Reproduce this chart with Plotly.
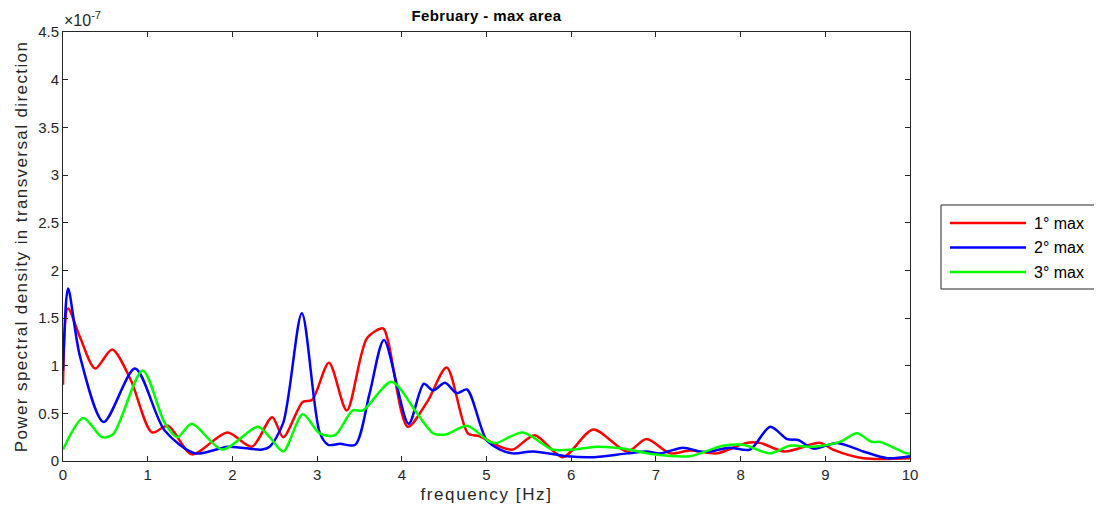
import plotly.graph_objects as go

# values in units of 1e-7
x_red = [0.0, 0.06, 0.2, 0.38, 0.58, 0.8, 1.05, 1.24, 1.52, 1.94, 2.23, 2.47, 2.6, 2.83, 2.94, 3.14, 3.35, 3.59, 3.78, 3.84, 4.07, 4.3, 4.53, 4.78, 4.92, 5.16, 5.31, 5.57, 5.9, 6.26, 6.66, 6.89, 7.17, 7.4, 7.72, 8.07, 8.23, 8.52, 8.94, 9.09, 9.45, 10.0]
y_red = [0.8, 1.6, 1.3, 0.97, 1.17, 0.85, 0.30, 0.37, 0.07, 0.30, 0.15, 0.46, 0.25, 0.62, 0.64, 1.03, 0.53, 1.29, 1.39, 1.25, 0.36, 0.62, 0.98, 0.29, 0.26, 0.15, 0.12, 0.27, 0.04, 0.33, 0.10, 0.23, 0.08, 0.11, 0.08, 0.19, 0.19, 0.10, 0.19, 0.12, 0.03, 0.03]

x_blue = [0.0, 0.06, 0.2, 0.48, 0.85, 1.2, 1.56, 1.95, 2.35, 2.44, 2.6, 2.82, 3.03, 3.13, 3.27, 3.45, 3.62, 3.79, 4.08, 4.26, 4.37, 4.51, 4.65, 4.77, 5.0, 5.16, 5.31, 5.55, 5.95, 6.26, 6.66, 6.89, 7.05, 7.32, 7.52, 7.64, 7.87, 8.11, 8.35, 8.55, 8.68, 8.86, 9.14, 9.45, 9.73, 10.0]
y_blue = [0.95, 1.81, 1.1, 0.41, 0.97, 0.32, 0.08, 0.15, 0.12, 0.15, 0.40, 1.55, 0.30, 0.17, 0.18, 0.17, 0.71, 1.27, 0.39, 0.81, 0.74, 0.82, 0.71, 0.75, 0.22, 0.12, 0.08, 0.10, 0.05, 0.04, 0.08, 0.10, 0.08, 0.14, 0.10, 0.10, 0.14, 0.12, 0.36, 0.23, 0.22, 0.13, 0.19, 0.10, 0.03, 0.05]

x_green = [0.0, 0.24, 0.46, 0.59, 0.94, 1.2, 1.35, 1.52, 1.88, 2.3, 2.44, 2.6, 2.83, 3.03, 3.21, 3.42, 3.54, 3.88, 4.18, 4.37, 4.53, 4.77, 5.04, 5.12, 5.43, 5.78, 6.02, 6.3, 6.61, 6.97, 7.4, 7.79, 8.03, 8.35, 8.58, 8.86, 9.17, 9.37, 9.55, 9.65, 9.96, 10.0]
y_green = [0.12, 0.45, 0.25, 0.28, 0.95, 0.40, 0.25, 0.39, 0.12, 0.36, 0.25, 0.10, 0.49, 0.29, 0.27, 0.53, 0.53, 0.83, 0.50, 0.29, 0.28, 0.37, 0.20, 0.19, 0.30, 0.12, 0.12, 0.15, 0.13, 0.07, 0.05, 0.16, 0.17, 0.08, 0.16, 0.15, 0.20, 0.29, 0.20, 0.20, 0.08, 0.08]

series_names = ["1° max", "2° max", "3° max"]
series_colors = ["#ff0000", "#0000ff", "#00ff00"]
x_ticks = list(range(0, 11))
y_ticks = [0, 0.5, 1, 1.5, 2, 2.5, 3, 3.5, 4, 4.5]
y_tick_text = ["0", "0.5", "1", "1.5", "2", "2.5", "3", "3.5", "4", "4.5"]
SCALE = 1e-7

# the page body has an 8px default margin; work in figure coordinates = screen - 8
OFF = 8
W, H = 1102 - OFF, 519 - OFF
L, R, T, B = 63 - OFF, 910 - OFF, 32 - OFF, 461 - OFF

fig = go.Figure()
for xs, ys, name, col in zip([x_red, x_blue, x_green], [y_red, y_blue, y_green], series_names, series_colors):
    fig.add_trace(go.Scatter(x=xs, y=[v * SCALE for v in ys], mode="lines", name=name,
                             line=dict(color=col, width=2.5, shape="spline", smoothing=0.8),
                             showlegend=False))

axcol = "#262626"
FONT = "Arial, Liberation Sans, Helvetica, sans-serif"
fig.update_layout(
    width=W, height=H,
    margin=dict(l=L, r=W - R, t=T, b=H - B),
    paper_bgcolor="white", plot_bgcolor="white",
    font=dict(family=FONT, size=15, color=axcol),
    title=dict(text='<b><span style="letter-spacing:0.4px">February - max area</span></b>',
               xref="container", yref="container",
               x=((63 + 910) / 2 - OFF) / W, xanchor="center",
               y=1.0 - 2.0 / H, yanchor="top", pad=dict(t=0, b=0),
               font=dict(size=15, color="black")),
    xaxis=dict(range=[0, 10], tickvals=x_ticks, ticks="inside", ticklen=5, tickcolor=axcol,
               showline=True, linecolor=axcol, linewidth=1, mirror="ticks", showgrid=False, zeroline=False,
               automargin=False,
               title=dict(text='<span style="letter-spacing:1.6px">frequency [Hz]</span>',
                          font=dict(size=17), standoff=6),
               tickfont=dict(size=15)),
    yaxis=dict(range=[0, 4.5 * SCALE], tickvals=[v * SCALE for v in y_ticks], ticktext=y_tick_text,
               ticks="inside", ticklen=5, tickcolor=axcol,
               showline=True, linecolor=axcol, linewidth=1, mirror="ticks", showgrid=False, zeroline=False,
               automargin=False,
               title=dict(text='<span style="letter-spacing:1.4px">Power spectral density in transversal direction</span>',
                          font=dict(size=17), standoff=6),
               tickfont=dict(size=15)),
)

# exponent label
fig.add_annotation(text="×10<sup>-7</sup>", xref="paper", yref="paper", x=0, y=1,
                   xanchor="left", yanchor="bottom", showarrow=False, font=dict(size=16, color=axcol),
                   xshift=-1, yshift=1)

# custom legend (paper coords relative to plot area), given in screen pixels
pw = R - L
ph = B - T
def px_x(p):
    return (p - OFF - L) / pw
def px_y(p):
    return (B - (p - OFF)) / ph

fig.add_shape(type="rect", xref="paper", yref="paper", x0=px_x(941), x1=px_x(1097), y0=px_y(289), y1=px_y(205),
              line=dict(color=axcol, width=1), fillcolor="white")
for i, (name, col) in enumerate(zip(series_names, series_colors)):
    yy = 223 + i * 24.5
    fig.add_shape(type="line", xref="paper", yref="paper", x0=px_x(950), x1=px_x(1026), y0=px_y(yy), y1=px_y(yy),
                  line=dict(color=col, width=2.5))
    fig.add_annotation(text=name, xref="paper", yref="paper", x=px_x(1032), y=px_y(yy), xanchor="left",
                       yanchor="middle", showarrow=False, font=dict(size=16, color="black"))

fig.write_html("out.html")
